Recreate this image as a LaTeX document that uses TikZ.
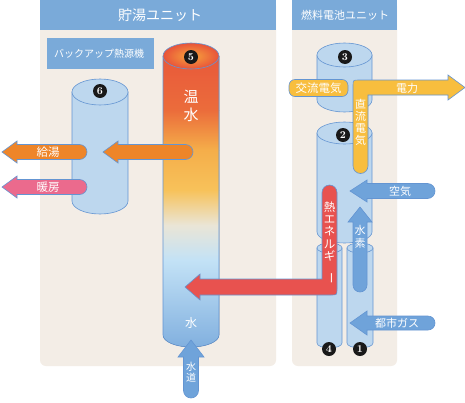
\documentclass[tikz,border=0pt]{standalone}
\usepackage{fontspec}
\usepackage{graphicx}
\newfontfamily\jp{Noto Sans CJK JP}
\definecolor{hdr}{HTML}{7AAAD9}
\definecolor{panel}{HTML}{F3EDE6}
\definecolor{cylfill}{HTML}{BDD7EE}
\definecolor{cyledge}{HTML}{6495D2}
\definecolor{bluear}{HTML}{6FA3DA}
\definecolor{orng}{HTML}{EE8529}
\definecolor{pinkar}{HTML}{EB6A8D}
\definecolor{yel}{HTML}{F8BE3E}
\definecolor{redar}{HTML}{E8524F}
\definecolor{tA}{HTML}{E8533A}
\definecolor{tB}{HTML}{EB6C3B}
\definecolor{tC}{HTML}{F5AE4A}
\definecolor{tD}{HTML}{F7C25A}
\definecolor{tE}{HTML}{EAE5D6}
\definecolor{tF}{HTML}{C3E2F6}
\definecolor{tG}{HTML}{7FAEDE}
\tikzset{
  cyl/.style={fill=cylfill, draw=cyledge, line width=0.6pt},
  arr/.style={draw=cyledge, line width=0.6pt},
  lbl/.style={text=white, inner sep=0pt, font=\jp\fontsize{11}{12}\selectfont},
  vlbl/.style={text=white, inner sep=0pt, align=center},
  badge/.style={circle, fill=black!90, text=white, minimum size=14pt, inner sep=0pt, font=\bfseries\fontsize{10.5}{10.5}\selectfont},
}
\newcommand\mycyl[5]{%
  \draw[cyl] (#1,#3) -- (#1,#4) arc[start angle=180,end angle=0,x radius={(#2-#1)/2},y radius=#5] -- (#2,#3) -- cycle;
  \draw[cyl] ({(#1+#2)/2},#3) ellipse[x radius={(#2-#1)/2}, y radius=#5];}
% left arrow: tipx, cy, headbase x, tail x, body half, head half, colour
\newcommand\larrow[7]{%
  \filldraw[arr, fill=#7] (#1,#2) -- (#3,{#2-#6}) -- (#3,{#2-#5}) -- ({#4-#5},{#2-#5})
    arc[start angle=-90,end angle=90,radius=#5] -- (#3,{#2+#5}) -- (#3,{#2+#6}) -- cycle;}
% up arrow: cx, tip y, headbase y, bottom y, body half, head half, colour
\newcommand\uarrow[7]{%
  \filldraw[arr, fill=#7] (#1,#2) -- ({#1+#6},#3) -- ({#1+#5},#3) -- ({#1+#5},{#4-#5})
    arc[start angle=0,end angle=180,radius=#5] -- ({#1-#5},#3) -- ({#1-#6},#3) -- cycle;}
\begin{document}
\begin{tikzpicture}[x=1pt,y=-1pt]
\useasboundingbox[fill=white] (0,0) rectangle (465,402);
% panels
\fill[panel, rounded corners=6pt] (40,0) rectangle (276,366);
\fill[panel, rounded corners=6pt] (292,0) rectangle (397,366);
\fill[hdr] (40,0) rectangle (276,30);
\fill[hdr] (292,0) rectangle (397,30);
\node[lbl, font=\jp\fontsize{14}{14}\selectfont] (h1) at (160,15) {貯湯ユニット};
\node[lbl, font=\jp\fontsize{11}{11}\selectfont] (h2) at (345,15) {燃料電池ユニット};
\node[fill=hdr, minimum width=107pt, minimum height=31pt, inner sep=0pt] (bk) at (100.5,53.5) {};
\node[lbl, font=\jp\fontsize{10}{10}\selectfont] (bkt) at (99,53.5) {バックアップ熱源機};
% cylinder 6
\mycyl{72}{128}{92}{201}{13}
\node[badge] (b6) at (100,91) {6};
% tank 5
\begin{scope}
\clip (163,56) -- (163,335) arc[start angle=180,end angle=0,x radius=28,y radius=12] -- (219,56) -- cycle;
\fill[top color=tA,bottom color=tB] (160,40) rectangle (222,110);
\fill[top color=tB,bottom color=tC] (160,110) rectangle (222,150);
\fill[top color=tC,bottom color=tD] (160,150) rectangle (222,190);
\fill[top color=tD,bottom color=tE] (160,190) rectangle (222,225);
\fill[top color=tE,bottom color=tF] (160,225) rectangle (222,260);
\fill[top color=tF,bottom color=tG] (160,260) rectangle (222,350);
\end{scope}
\draw[cyledge, line width=0.6pt] (163,56) -- (163,335) arc[start angle=180,end angle=0,x radius=28,y radius=12] -- (219,56);
\draw[cyledge, line width=0.6pt, inner color=tC!80!orange, outer color=tA] (191,56) ellipse[x radius=28,y radius=13];
\node[badge] (b5) at (191,57) {5};
\node[vlbl, font=\jp\fontsize{15}{18}\selectfont] (onsui) at (191,106) {温\\水};
\node[lbl, font=\jp\fontsize{12}{12}\selectfont] (mizu) at (191,323) {水};
% fuel cell cylinders
\mycyl{317}{372}{55}{100}{12}
\mycyl{317}{372}{133}{232}{11}
\mycyl{317}{342}{248}{343}{5}
\mycyl{347}{373}{248}{343}{5}
\node[badge] (b3) at (345,57) {3};
\node[badge] (b2) at (343,135) {2};
% AC box
\node[fill=yel, draw=cyledge, line width=0.6pt, rounded corners=6pt, minimum width=59pt, minimum height=17pt, inner sep=0pt] (ac) at (318.5,88) {};
\node[lbl, font=\jp\fontsize{11.5}{12}\selectfont] (act) at (318.5,88) {交流電気};
% yellow DC / power path
\filldraw[arr, fill=yel] (368,166) -- (368,95) -- (448,95) -- (448,100) -- (465,87.5) -- (448,75) -- (448,80) -- (359,80) .. controls (353,80) .. (353,86) -- (353,166) arc[start angle=180,end angle=0,radius=7.5] -- cycle;
\node[lbl] (pw) at (407,88) {電力};
\node[vlbl, font=\jp\fontsize{11}{11.8}\selectfont] (dc) at (360.5,122.5) {直\\流\\電\\気};
% red heat path
\filldraw[arr, fill=redar] (322,192.5) arc[start angle=180,end angle=360,radius=7.5] -- (337,289) .. controls (337,295) .. (331,295) -- (200,295) -- (200,300) -- (185,287) -- (200,274) -- (200,279) -- (322,279) -- cycle;
\node[vlbl, font=\jp\fontsize{11.5}{12.3}\selectfont] (heat) at (329.5,243) {熱\\エ\\ネ\\ル\\ギ\\\rotatebox{-90}{ー}};
% blue arrows
\larrow{350}{191}{367}{435}{7.5}{11}{bluear}
\node[lbl] (air) at (400,191) {空気};
\larrow{350}{323}{367}{435}{7}{12}{bluear}
\node[lbl] (gas) at (397,323) {都市ガス};
\uarrow{360}{207}{222}{292}{7}{12}{bluear}
\node[vlbl, font=\jp\fontsize{11}{13}\selectfont] (h2t) at (360,237) {水\\素};
\uarrow{191}{340}{357}{398}{7.5}{13}{bluear}
\node[vlbl, font=\jp\fontsize{10}{10.5}\selectfont] (sui) at (191,372) {水\\道};
\node[badge] (b4) at (329,349) {4};
\node[badge] (b1) at (360,349) {1};
% orange / pink arrows
\larrow{2}{152}{17}{87}{7.5}{11}{orng}
\node[lbl, font=\jp\fontsize{11.5}{12}\selectfont] (kyuto) at (48,152) {給湯};
\larrow{103}{152}{118}{193}{7.5}{11}{orng}
\larrow{2}{187}{17}{87}{7.5}{11}{pinkar}
\node[lbl, font=\jp\fontsize{11.5}{12}\selectfont] (danbo) at (48,187) {暖房};
\end{tikzpicture}
\end{document}
